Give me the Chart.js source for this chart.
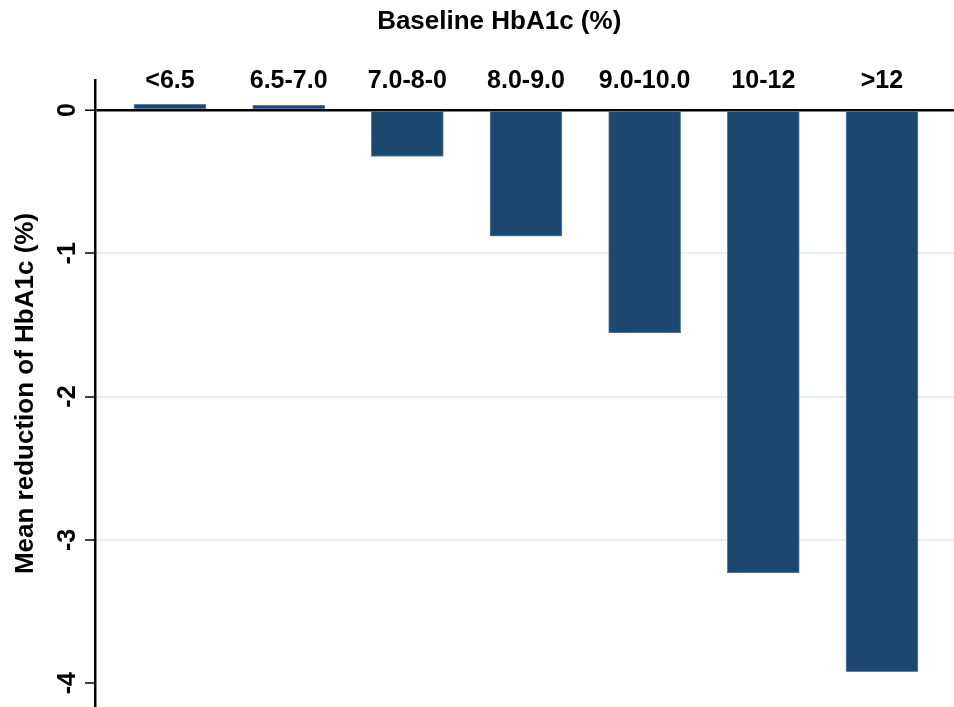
<!DOCTYPE html>
<html>
<head>
<meta charset="utf-8">
<script src="https://cdn.jsdelivr.net/npm/chart.js@4/dist/chart.umd.min.js"></script>
<style>
  body { margin: 0; background: #fff; }
  #chart { display: block; }
</style>
</head>
<body>
<canvas id="chart" width="954" height="707"></canvas>
<script>
// data
const categories = ['<6.5', '6.5-7.0', '7.0-8-0', '8.0-9.0', '9.0-10.0', '10-12', '>12'];
const meanReduction = [0.04, 0.033, -0.325, -0.88, -1.555, -3.23, -3.92];
const yTicks = [0, -1, -2, -3, -4];

const FONT = "'Liberation Sans', Arial, Helvetica, sans-serif";
const barColor = '#1c4870';

const ctx = document.getElementById('chart').getContext('2d');

// keep the plot area where the reference has it
const noPadding = (scale) => {
  scale.paddingTop = 0;
  scale.paddingBottom = 0;
  scale.paddingLeft = 0;
  scale.paddingRight = 0;
};

const chart = new Chart(ctx, {
  type: 'bar',
  data: {
    datasets: [{
      data: categories.map((c, i) => ({ x: i, y: meanReduction[i] })),
      backgroundColor: barColor,
      borderColor: '#5f80a2',
      borderWidth: 1,
      borderSkipped: false,
      barThickness: 72
    }]
  },
  options: {
    responsive: false,
    animation: false,
    layout: { padding: 0 },
    plugins: { legend: { display: false }, tooltip: { enabled: false } },
    scales: {
      x: {
        type: 'linear',
        position: 'top',
        offset: false,
        min: -0.632,
        max: 6.607,
        grid: { display: false },
        border: { display: false },
        ticks: {
          stepSize: 1,
          autoSkip: false,
          maxRotation: 0,
          mirror: true,
          padding: -13.5,
          color: '#000',
          font: { family: FONT, size: 25, weight: 'bold' },
          callback: (v) => categories[v] ?? ''
        },
        afterBuildTicks: (scale) => {
          scale.ticks = categories.map((c, i) => ({ value: i }));
        },
        title: {
          display: true,
          text: 'Baseline HbA1c (%)       ',
          color: '#000',
          font: { family: FONT, size: 26, weight: 'bold' },
          padding: { top: 6, bottom: 0 }
        },
        afterFit: (scale) => { scale.height = 80; noPadding(scale); }
      },
      y: {
        min: -4.166,
        max: 0.209,
        grid: {
          color: (c) => c.tick.value === 0 ? '#000' : (c.tick.value === -4 ? 'rgba(0,0,0,0)' : '#e6eef1'),
          lineWidth: (c) => c.tick.value === 0 ? 2.5 : 2,
          tickColor: '#000',
          tickWidth: 1.5,
          tickLength: 10
        },
        border: { display: true, color: '#000', width: 2.5 },
        ticks: {
          stepSize: 1,
          minRotation: 90,
          maxRotation: 90,
          crossAlign: 'center',
          padding: 6,
          color: '#000',
          font: { family: FONT, size: 25, weight: 'bold' }
        },
        afterBuildTicks: (scale) => {
          scale.ticks = yTicks.map(v => ({ value: v }));
        },
        title: {
          display: true,
          text: 'Mean reduction of HbA1c (%)',
          color: '#000',
          font: { family: FONT, size: 26, weight: 'bold' },
          padding: { top: 10, bottom: 0 }
        },
        afterFit: (scale) => { scale.width = 95; noPadding(scale); }
      }
    }
  }
});
</script>
</body>
</html>
